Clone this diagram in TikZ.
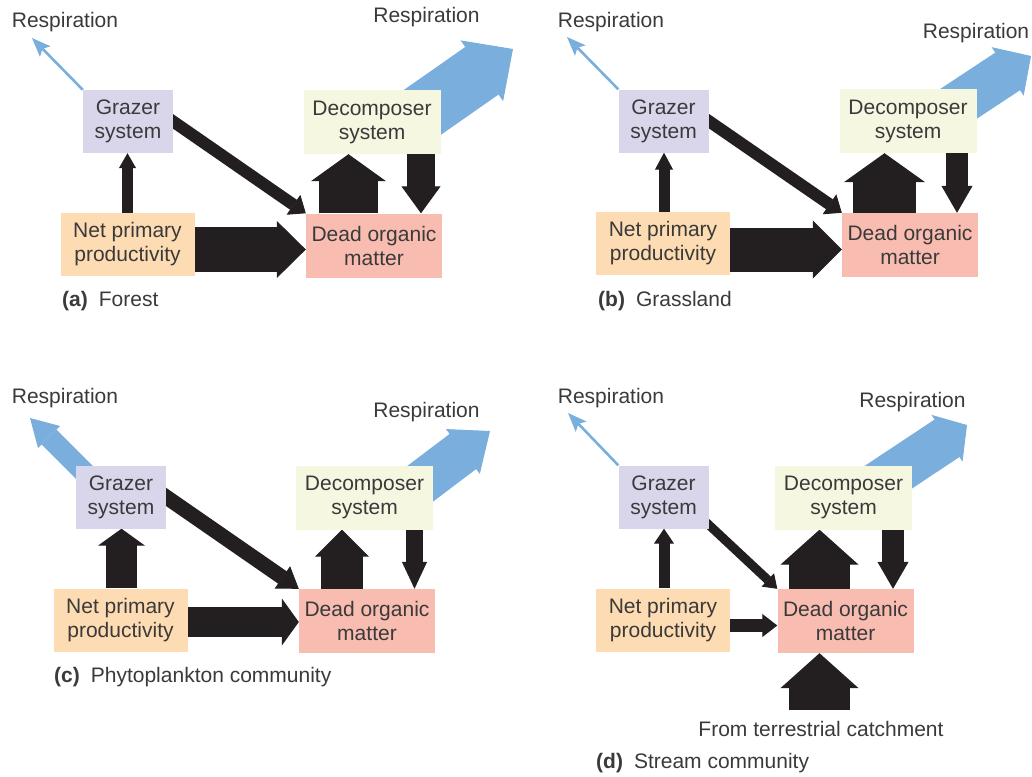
\documentclass[tikz,border=0pt]{standalone}
\usepackage{fontspec}
\setmainfont{Liberation Sans}
\usetikzlibrary{arrows.meta, positioning, calc, backgrounds}

\definecolor{ink}{HTML}{231F20}
\definecolor{txt}{HTML}{3A3A3A}
\definecolor{grazfill}{HTML}{D9D6EC}
\definecolor{decfill}{HTML}{F5F7E1}
\definecolor{nppfill}{HTML}{FEDCB3}
\definecolor{domfill}{HTML}{F9BCB1}
\definecolor{respblue}{HTML}{7AAFDD}

\begin{document}
\begin{tikzpicture}[
    x=1pt, y=-1pt,
    font=\fontsize{21}{24}\selectfont,
    text=txt,
    box/.style={rectangle, inner sep=0pt, align=center, minimum height=63pt},
    grazer/.style={box, fill=grazfill, minimum width=90pt},
    decomp/.style={box, fill=decfill, minimum width=137pt, minimum height=64pt},
    npp/.style={box, fill=nppfill, minimum width=134pt},
    dom/.style={box, fill=domfill, minimum width=136pt, minimum height=64pt},
    resptext/.style={anchor=base, inner sep=0pt},
    panelcap/.style={anchor=base west, inner sep=0pt},
    flow/.style n args={3}{draw=ink, line width=#1, -{Triangle[width=#2, length=#3, line width=1pt]}},
    bigresp/.style n args={3}{draw=respblue, line width=#1, -{Triangle[width=#2, length=#3, line width=1pt]}},
    resp/.style={draw=respblue, line width=2.6pt, -{Stealth[length=19pt, width=15pt, inset=4pt, line width=0pt]}}
]
\useasboundingbox (0,0) rectangle (1032,776);

% (a) Forest
\node[grazer] (ga) at (128,121.5) {Grazer\\system};
\node[decomp] (da) at (372,122) {Decomposer\\system};
\node[npp] (na) at (127.5,244.5) {Net primary\\productivity};
\node[dom] (oa) at (374,245.5) {Dead organic\\matter};
\node[resptext] (rla) at (65,28) {Respiration};
\node[resptext] (rra) at (426.5,23) {Respiration};
\node[panelcap] (capa) at (62,306) {\textbf{(a)}\hspace{11pt}Forest};
\coordinate (tla) at (32,38);
\coordinate (tra) at (513,49);
\begin{scope}[on background layer]
\draw[flow={11pt}{17pt}{15pt}] (na.north) -- (na.north |- ga.south);
\draw[flow={12pt}{24pt}{15pt}] ($(ga.east)!-8pt!(oa.north west)$) -- (oa.north west);
\draw[flow={45pt}{57pt}{29pt}] ([yshift=-5pt]na.east) -- ([yshift=-5pt]na.east -| oa.west);
\draw[flow={59pt}{75pt}{27pt}] ([xshift=-25.5pt]oa.north) -- ([xshift=-25.5pt]oa.north |- da.south);
\draw[flow={28pt}{39pt}{27pt}] ([xshift=49pt]da.south) -- ([xshift=49pt]da.south |- oa.north);
\draw[bigresp={58pt}{74pt}{38pt}] ([shift={(28,6)}]da.center) -- (tra);
\draw[resp] (ga.north west) -- (tla);
\end{scope}

% (b) Grassland
\node[grazer] (gb) at (663.5,121) {Grazer\\system};
\node[decomp] (db) at (908,121) {Decomposer\\system};
\node[npp] (nb) at (663,243.5) {Net primary\\productivity};
\node[dom] (ob) at (910,245) {Dead organic\\matter};
\node[resptext] (rlb) at (611,28) {Respiration};
\node[resptext] (rrb) at (976,38) {Respiration};
\node[panelcap] (capb) at (598,306) {\textbf{(b)}\hspace{11pt}Grassland};
\coordinate (tlb) at (567,37);
\coordinate (trb) at (1031,56);
\begin{scope}[on background layer]
\draw[flow={11pt}{18pt}{17pt}] ([xshift=1pt]nb.north) -- ([xshift=1pt]nb.north |- gb.south);
\draw[flow={12pt}{24pt}{15pt}] ($(gb.east)!-8pt!(ob.north west)$) -- (ob.north west);
\draw[flow={44pt}{58pt}{29pt}] ([yshift=-6pt]nb.east) -- ([yshift=-6pt]nb.east -| ob.west);
\draw[flow={63pt}{81pt}{29pt}] ([xshift=-25.5pt]ob.north) -- ([xshift=-25.5pt]ob.north |- db.south);
\draw[flow={22pt}{31pt}{27pt}] ([xshift=49pt]db.south) -- ([xshift=49pt]db.south |- ob.north);
\draw[bigresp={45pt}{58pt}{28pt}] ([shift={(23,1)}]db.center) -- (trb);
\draw[resp] (gb.north west) -- (tlb);
\end{scope}

% (c) Phytoplankton community
\node[grazer] (gc) at (121,497) {Grazer\\system};
\node[decomp] (dc) at (364.5,497.5) {Decomposer\\system};
\node[npp] (nc) at (120.5,620) {Net primary\\productivity};
\node[dom] (oc) at (367,621) {Dead organic\\matter};
\node[resptext] (rlc) at (65,403) {Respiration};
\node[resptext] (rrc) at (426.5,417) {Respiration};
\node[panelcap] (capc) at (54,682) {\textbf{(c)}\hspace{11pt}Phytoplankton community};
\coordinate (tlc) at (30,418);
\coordinate (trc) at (490,431);
\begin{scope}[on background layer]
\draw[flow={31pt}{47pt}{17pt}] ([xshift=1pt]nc.north) -- ([xshift=1pt]nc.north |- gc.south);
\draw[flow={15pt}{27pt}{20pt}] ($(gc.east)!-8pt!(oc.north west)$) -- (oc.north west);
\draw[flow={30pt}{47pt}{17pt}] ([yshift=-2pt]nc.east) -- ([yshift=-2pt]nc.east -| oc.west);
\draw[flow={42pt}{54pt}{27pt}] ([xshift=-25pt]oc.north) -- ([xshift=-25pt]oc.north |- dc.south);
\draw[flow={17pt}{25pt}{27pt}] ([xshift=50pt]dc.south) -- ([xshift=50pt]dc.south |- oc.north);
\draw[bigresp={44pt}{56pt}{34pt}] ([shift={(37.5,0)}]dc.center) -- (trc);
\draw[bigresp={21pt}{31pt}{27pt}] ([shift={(-21,-9)}]gc.center) -- (tlc);
\end{scope}

% (d) Stream community
\node[grazer] (gd) at (663.5,497) {Grazer\\system};
\node[decomp] (dd) at (843.5,497.5) {Decomposer\\system};
\node[npp] (nd) at (663,620) {Net primary\\productivity};
\node[dom] (od) at (845.5,621) {Dead organic\\matter};
\node[resptext] (rld) at (611,403) {Respiration};
\node[resptext] (rrd) at (912.5,407) {Respiration};
\node[resptext] (tcd) at (821,736) {From terrestrial catchment};
\node[panelcap] (capd) at (596,768) {\textbf{(d)}\hspace{11pt}Stream community};
\coordinate (tld) at (568,413);
\coordinate (trd) at (967,425);
\coordinate (td) at (819.5,710);
\begin{scope}[on background layer]
\draw[flow={11pt}{20pt}{15pt}] ([xshift=1pt]nd.north) -- ([xshift=1pt]nd.north |- gd.south);
\draw[flow={9pt}{18pt}{13pt}] ($([yshift=4pt]gd.south east)!-6pt!(od.north west)$) -- (od.north west);
\draw[flow={13pt}{23pt}{15pt}] ([yshift=-5.5pt]nd.east) -- ([yshift=-5.5pt]nd.east -| od.west);
\draw[flow={61pt}{78pt}{35pt}] ([xshift=-26pt]od.north) -- ([xshift=-26pt]od.north |- dd.south);
\draw[flow={22pt}{31pt}{27pt}] ([xshift=49.5pt]dd.south) -- ([xshift=49.5pt]dd.south |- od.north);
\draw[flow={61pt}{78pt}{35pt}] (td) -- (td |- od.south);
\draw[bigresp={45pt}{56pt}{24pt}] ([shift={(24,-6.5)}]dd.center) -- (trd);
\draw[resp] (gd.north west) -- (tld);
\end{scope}
\end{tikzpicture}
\end{document}
